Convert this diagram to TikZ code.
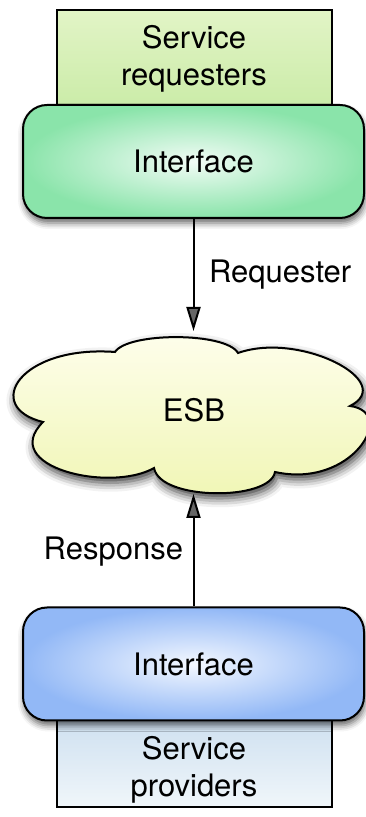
\documentclass[tikz,border=0pt]{standalone}
\usepackage{fontspec}
\setmainfont{TeX Gyre Heros}
\usetikzlibrary{arrows.meta,shadows.blur}

\definecolor{reqtop}{RGB}{226,244,198}
\definecolor{reqbot}{RGB}{198,234,162}
\definecolor{greenout}{RGB}{138,228,170}
\definecolor{greenin}{RGB}{242,252,246}
\definecolor{cloudtop}{RGB}{254,254,236}
\definecolor{cloudbot}{RGB}{240,246,180}
\definecolor{blueout}{RGB}{146,184,246}
\definecolor{bluein}{RGB}{244,248,255}
\definecolor{provtop}{RGB}{206,224,240}
\definecolor{provbot}{RGB}{240,246,250}

\begin{document}
\begin{tikzpicture}[x=1pt,y=1pt,line width=2pt,
  every node/.style={font=\fontsize{31}{37}\selectfont, inner sep=0pt},
  servicebox/.style={draw, minimum width=275pt, inner sep=0pt},
  ifacebox/.style={draw, rounded corners=24pt, minimum width=341pt,
    minimum height=113pt, inner sep=0pt,
    blur shadow={shadow xshift=1pt, shadow yshift=-5pt,
      shadow blur radius=6pt, shadow opacity=60}},
  flow/.style={-{Triangle[length=24pt,width=14pt]}, line width=2pt},
  flowlabel/.style={font=\fontsize{31}{37}\selectfont}]
\useasboundingbox (0,0) rectangle (366,817);

% requester side
\node[servicebox, minimum height=117pt, top color=reqtop, bottom color=reqbot]
  (req) at (194.5,748.5) {};
\node[align=center] (reqtxt) at (194,758.5) {Service\\requesters};
\node[ifacebox, inner color=greenin, outer color=greenout]
  (ifacetop) at (193.5,655.5) {Interface};

% provider side
\node[servicebox, minimum height=90pt, top color=provtop, bottom color=provbot]
  (prov) at (194,55) {};
\node[align=center] (provtxt) at (194,47) {Service\\providers};
\node[ifacebox, inner color=bluein, outer color=blueout]
  (ifacebot) at (193.5,153) {Interface};

% the bus
\path[draw, top color=cloudtop, bottom color=cloudbot,
  blur shadow={shadow xshift=2pt, shadow yshift=-5pt,
    shadow blur radius=9pt, shadow opacity=80}]
  (115,465) .. controls (128,485) and (226,485) .. (238,464)
  .. controls (300,486) and (398,435) .. (350,411)
  .. controls (398,405) and (352,328) .. (275,345)
  .. controls (270,316) and (160,316) .. (154,349)
  .. controls (110,324) and (-2,350) .. (43,395)
  .. controls (-18,410) and (20,472) .. cycle;
\node[anchor=base] (esb) at (194,395) {ESB};
\coordinate (cloudN) at (193.5,486);
\coordinate (cloudS) at (193.5,323);

% message flows
\draw[flow] (ifacetop.south) -- (cloudN);
\draw[flow] (ifacebot.north) -- (cloudS);
\node[flowlabel, anchor=base west] (reqlbl) at (208,534) {Requester};
\node[flowlabel, anchor=base east] (resplbl) at (184,257) {Response};
\end{tikzpicture}
\end{document}
